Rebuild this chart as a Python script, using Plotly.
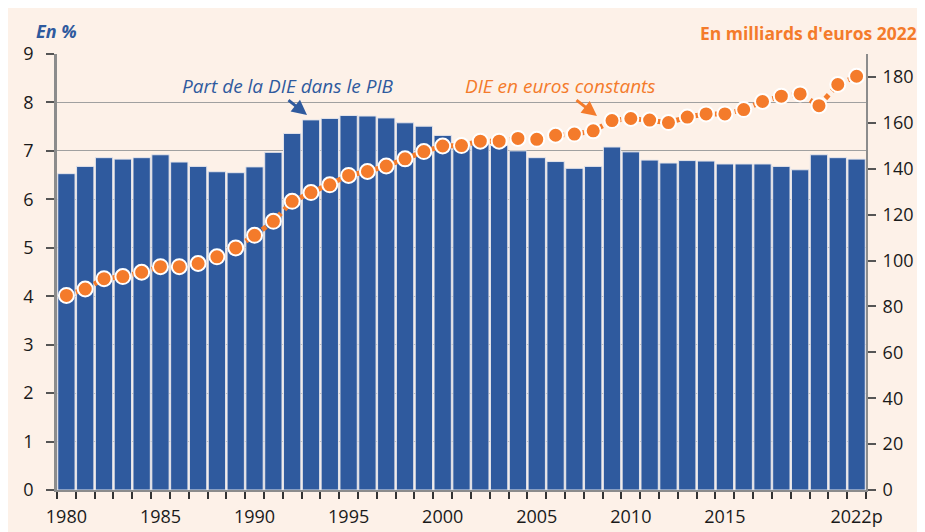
import plotly.graph_objects as go

years = list(range(1980, 2023))
part_pib = [6.53, 6.68, 6.86, 6.83, 6.86, 6.92, 6.77, 6.68, 6.57, 6.55,
            6.67, 6.97, 7.36, 7.64, 7.67, 7.73, 7.72, 7.68, 7.58, 7.51,
            7.32, 7.12, 7.14, 7.11, 7.00, 6.86, 6.78, 6.64, 6.68, 7.08,
            6.98, 6.81, 6.75, 6.80, 6.79, 6.73, 6.73, 6.73, 6.68, 6.61,
            6.92, 6.86, 6.83]
die_const = [84.8, 87.6, 92.1, 93.0, 94.9, 97.3, 97.3, 98.7, 101.6, 105.5,
             111.0, 117.1, 125.8, 129.6, 133.0, 137.1, 138.8, 141.2, 144.3, 147.5,
             149.9, 150.1, 152.0, 152.0, 153.2, 152.8, 154.6, 155.1, 156.5, 161.0,
             161.9, 161.2, 160.1, 162.5, 163.9, 163.9, 165.8, 169.3, 171.6, 172.6,
             167.5, 176.7, 180.3]
x_tickvals = [1980, 1985, 1990, 1995, 2000, 2005, 2010, 2015, 2022]
x_ticktext = ["1980", "1985", "1990", "1995", "2000", "2005", "2010", "2015", "2022p"]
y_ticks = list(range(0, 10))
y2_ticks = list(range(0, 200, 20))

BLUE = "#2f5a9e"
ORANGE = "#f47b2b"
CREAM = "#fdf1e8"
FONT = "Open Sans"

# plot area in screen pixels (page has an 8px body margin)
PL, PR, PT, PB = 57, 866, 54, 490
PW, PH = PR - PL, PB - PT


def px(x):
    return (x - PL) / PW


def py(y):
    return (PB - y) / PH


fig = go.Figure()
fig.add_trace(go.Bar(
    x=years, y=part_pib, marker=dict(color=BLUE, line=dict(color="#e4e4ea", width=1)),
    name="Part de la DIE dans le PIB", yaxis="y"))
fig.add_trace(go.Scatter(
    x=years, y=die_const, mode="lines+markers", yaxis="y2",
    line=dict(color=ORANGE, width=5, dash="dot"),
    marker=dict(color=ORANGE, size=15, line=dict(color="white", width=2)),
    name="DIE en euros constants"))

fig.update_layout(
    width=925, height=532,
    margin=dict(l=PL - 8, r=925 - (PR - 8), t=PT - 8, b=532 - (PB - 8), autoexpand=False),
    paper_bgcolor=CREAM, plot_bgcolor=CREAM,
    showlegend=False, bargap=0.08,
    font=dict(family=FONT, color="#1a1a1a", size=18),
    xaxis=dict(range=[1979.5, 2022.5], tickvals=x_tickvals, ticktext=x_ticktext,
               ticks="", showgrid=False, showline=True, linecolor="#8c8c8c", linewidth=2,
               tickfont=dict(size=18), zeroline=False, ticklabelstandoff=9,
               minor=dict(ticks="outside", ticklen=7, tickwidth=1.5, tickcolor="#333",
                          tick0=1979.5, dtick=1, showgrid=False)),
    yaxis=dict(range=[0, 9], tickvals=y_ticks, ticks="outside", ticklen=8, tickwidth=1.5,
               tickcolor="#555", showgrid=True, gridcolor="#a0a0a0", gridwidth=1.2,
               showline=True, linecolor="#8c8c8c", linewidth=2.5, zeroline=False,
               tickfont=dict(size=18), ticklabelstandoff=9),
    yaxis2=dict(range=[0, 190], tickvals=y2_ticks, overlaying="y", side="right",
                ticks="outside", ticklen=8, tickwidth=1.5, tickcolor="#555",
                showgrid=False, showline=True, linecolor="#8c8c8c", linewidth=2,
                zeroline=False, tickfont=dict(size=18), ticklabelstandoff=3),
)

fig.add_annotation(xref="paper", yref="paper", x=px(56), y=py(31), xanchor="center",
                   yanchor="middle", showarrow=False,
                   text="<b><i>En %</i></b>", font=dict(color=BLUE, size=18, family=FONT))
fig.add_annotation(xref="paper", yref="paper", x=px(919), y=py(33), xanchor="right",
                   yanchor="middle", showarrow=False,
                   text="<b>En milliards d'euros 2022</b>", font=dict(color=ORANGE, size=17.5, family=FONT))
fig.add_annotation(xref="paper", yref="paper", x=px(288), y=py(86),
                   xanchor="center", yanchor="middle", showarrow=False,
                   text="<i>Part de la DIE dans le PIB</i>", font=dict(color=BLUE, size=19, family=FONT))
fig.add_annotation(xref="paper", yref="paper", x=px(560), y=py(86),
                   xanchor="center", yanchor="middle", showarrow=False,
                   text="<i>DIE en euros constants</i>", font=dict(color=ORANGE, size=19, family=FONT))
# arrows
fig.add_annotation(xref="paper", yref="paper", axref="pixel", ayref="pixel",
                   x=px(307), y=py(115), ax=-20, ay=-16,
                   showarrow=True, arrowhead=2, arrowsize=1, arrowwidth=3, arrowcolor=BLUE, text="")
fig.add_annotation(xref="paper", yref="paper", axref="pixel", ayref="pixel",
                   x=px(597), y=py(116), ax=-22, ay=-17,
                   showarrow=True, arrowhead=2, arrowsize=1, arrowwidth=3, arrowcolor=ORANGE, text="")

fig.write_html("out.html")
